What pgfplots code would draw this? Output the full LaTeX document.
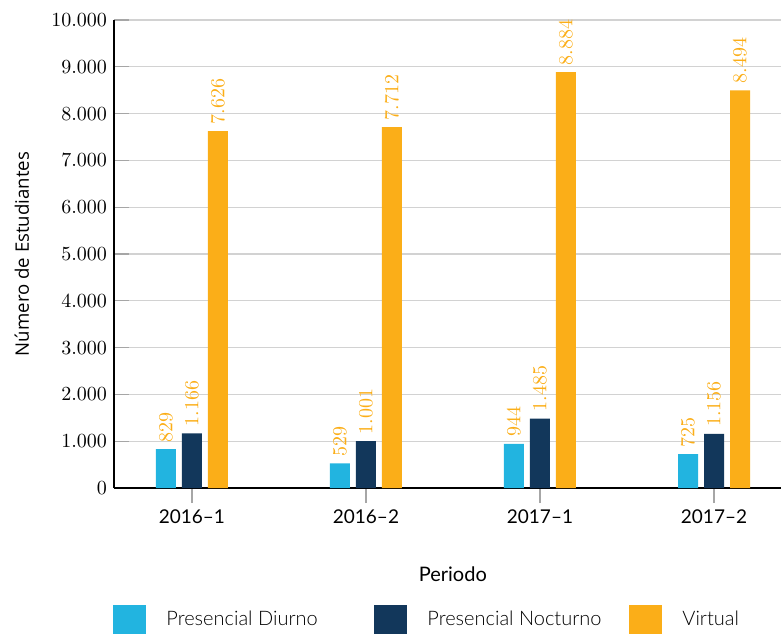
\documentclass[border=0pt]{standalone}
\usepackage{fontspec}
\setmainfont{Lato}
\newfontfamily\lightfont{Lato Light}
\newfontfamily\osans{Open Sans}
\usepackage{pgfplots}
\pgfplotsset{compat=1.18}
\definecolor{cblue}{HTML}{22B4E0}
\definecolor{cnavy}{HTML}{12375B}
\definecolor{corange}{HTML}{FBAE18}
\begin{document}
\begin{tikzpicture}
\begin{axis}[name=ax, scale only axis, width=333.5pt, height=234pt,
  ymin=0, ymax=10000, ytick={0,1000,...,10000},
  xmin=-0.448, xmax=3.385, xtick={0,1,2,3},
  xticklabels={2016--1,2016--2,2017--1,2017--2},
  axis x line*=bottom, axis y line*=left,
  axis line style={-, black, line width=0.8pt},
  ymajorgrids, grid style={gray!35, line width=0.6pt},
  scaled y ticks=false,
  /pgf/number format/1000 sep={.},
  xtick align=outside, ytick align=inside,
  major tick length=7.5pt,
  tick style={gray!70, line width=0.6pt},
  yticklabel style={font=\fontsize{9.8}{11}\selectfont},
  xticklabel style={font=\fontsize{9.5}{11}\selectfont},
  ybar=3pt, bar width=10pt,
  nodes near coords,
  nodes near coords style={font=\fontsize{9.8}{11}\selectfont, color=corange, rotate=90, anchor=west},
  xlabel={Periodo}, ylabel={Número de Estudiantes},
  every axis x label/.style={at={(axis description cs:0.508,-0.1838)}, anchor=center, font=\fontsize{10}{12}\selectfont},
  every axis y label/.style={at={(axis description cs:-0.138,0.5)}, anchor=center, rotate=90, font=\osans\fontsize{9.3}{11}\selectfont},
  legend columns=3,
  legend style={at={(axis description cs:-0.0015,-0.25)}, anchor=north west, draw=none, inner sep=0pt,
    font=\lightfont\fontsize{10}{12}\selectfont,
    /tikz/every odd column/.append style={column sep=8pt},
    /tikz/every even column/.append style={column sep=0pt}},
  legend image code/.code={\fill[#1] (0pt,-7.25pt) rectangle (16.5pt,7.25pt);},
  clip=false,
]
\addplot[fill=cblue, draw=none] coordinates {(0,829) (1,529) (2,944) (3,725)};
\addplot[fill=cnavy, draw=none] coordinates {(0,1166) (1,1001) (2,1485) (3,1156)};
\addplot[fill=corange, draw=none] coordinates {(0,7626) (1,7712) (2,8884) (3,8494)};
\legend{\makebox[102pt][l]{Presencial Diurno},\makebox[99pt][l]{Presencial Nocturno},Virtual}
\end{axis}
\pgfresetboundingbox
\path[use as bounding box] ([xshift=-57pt,yshift=-73pt]ax.south west) rectangle ([yshift=10pt]ax.north east);
\end{tikzpicture}
\end{document}
